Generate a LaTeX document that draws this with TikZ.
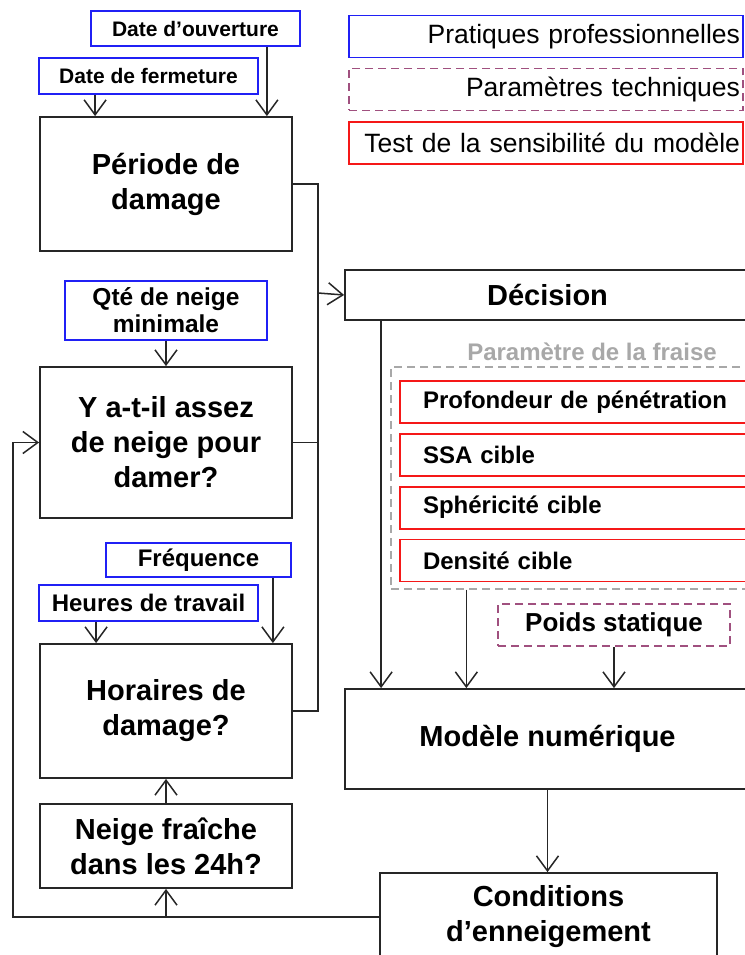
\documentclass[tikz,border=0pt]{standalone}
\usepackage{fontspec}
\setmainfont{Liberation Sans}
\usepackage{tikz}
\usepackage{xcolor}
\usetikzlibrary{arrows.meta, positioning, calc}
\definecolor{PratBlue}{HTML}{2020F5}
\definecolor{TechPlum}{HTML}{A0507F}
\definecolor{TestRed}{HTML}{F51818}
\definecolor{FraiseGray}{HTML}{A8A8A8}

\begin{document}
\begin{tikzpicture}[x=1pt, y=-1pt,
    stepbox/.style={draw=black!85, line width=1.8pt, align=center, inner sep=0pt,
        font=\fontsize{29}{35}\selectfont\bfseries},
    pratbox/.style={draw=PratBlue, line width=1.8pt, align=center, inner sep=0pt,
        font=\fontsize{21}{24}\selectfont\bfseries},
    testbox/.style={draw=TestRed, line width=1.8pt, align=left, inner xsep=23pt,
        inner ysep=0pt, text width=314pt, minimum height=42pt,
        font=\fontsize{24}{27}\selectfont\bfseries},
    legbox/.style={line width=1.8pt, align=right, inner xsep=3pt, inner ysep=0pt,
        text width=388pt, minimum height=42pt, font=\fontsize{26.5}{30}\selectfont},
    flow/.style={line width=1.5pt, draw=black!85, -{Straight Barb[length=15pt, width=22pt]}},
    link/.style={line width=1.5pt, draw=black!85}]
\useasboundingbox (0,0) rectangle (744,955);

% legend
\node[legbox, draw=PratBlue] (legPrat) at (546,36.5) {Pratiques professionnelles};
\node[legbox, draw=TechPlum, dash pattern=on 8pt off 5pt] (legTech) at (546,89.5) {Paramètres techniques};
\node[legbox, draw=TestRed] (legTest) at (546,143) {Test de la sensibilité du modèle};

% left column
\node[pratbox, minimum width=209pt, minimum height=35pt] (dateOuv) at (195.5,28.5) {Date d’ouverture};
\node[pratbox, minimum width=219pt, minimum height=36pt] (dateFerm) at (148.5,76) {Date de fermeture};
\node[stepbox, minimum width=252pt, minimum height=134pt] (periode) at (166,184) {Période de\\damage};
\node[pratbox, font=\fontsize{24.5}{27}\selectfont\bfseries,
      minimum width=202pt, minimum height=59pt] (qteNeige) at (166,310.5) {Qté de neige\\minimale};
\node[stepbox, minimum width=252pt, minimum height=151pt] (assez) at (166,442.5) {Y a-t-il assez\\de neige pour\\damer?};
\node[pratbox, font=\fontsize{24}{27}\selectfont\bfseries,
      minimum width=185pt, minimum height=34pt] (freq) at (198.5,560) {Fréquence};
\node[pratbox, font=\fontsize{24}{27}\selectfont\bfseries,
      minimum width=219pt, minimum height=36pt] (heures) at (148.5,603) {Heures de travail};
\node[stepbox, minimum width=252pt, minimum height=134pt] (horaires) at (166,711) {Horaires de\\damage?};
\node[stepbox, minimum width=252pt, minimum height=84pt] (neige) at (166,846) {Neige fraîche\\dans les 24h?};

% right column
\node[stepbox, minimum width=405pt, minimum height=50pt] (decision) at (547.5,295) {Décision};
\node[draw=FraiseGray, line width=1.3pt, dash pattern=on 8pt off 5pt,
      minimum width=369pt, minimum height=222pt] (fraise) at (575.5,478) {};
\node[font=\fontsize{24}{27}\selectfont\bfseries, text=FraiseGray] (fraiseLbl) at (592,352) {Paramètre de la fraise};
\node[testbox] (profond) at (580,402) {Profondeur de pénétration};
\node[testbox, below=9pt of profond] (ssa) {SSA cible};
\node[testbox, below=9pt of ssa] (spheric) {Sphéricité cible};
\node[testbox, below=9pt of spheric] (densite) {Densité cible};
\node[draw=TechPlum, line width=1.8pt, dash pattern=on 8pt off 5pt, minimum width=232pt,
      minimum height=42pt, font=\fontsize{26}{30}\selectfont\bfseries] (poids) at (614,625) {Poids statique};
\node[stepbox, minimum width=405pt, minimum height=100pt] (modele) at (547.5,739) {Modèle numérique};
\node[stepbox, minimum width=337pt, minimum height=88pt] (cond) at (548.5,917) {Conditions\\d’enneigement};

% connector points
\coordinate (bus) at (318,293);
\coordinate (loop) at (13,917);
\coordinate (ferm) at ([xshift=57pt]dateFerm.south west);
\coordinate (ouv) at ([xshift=-34pt]dateOuv.south east);
\coordinate (heu) at ([xshift=58pt]heures.south west);
\coordinate (fre) at ([xshift=-19pt]freq.south east);
\coordinate (dec) at ([xshift=37pt]decision.south west);
\coordinate (fra) at ([xshift=76pt]fraise.south west);

% connectors
\draw[flow] (ferm) -- (ferm |- periode.north);
\draw[flow] (ouv) -- (ouv |- periode.north);
\draw[flow] (qteNeige.south) -- (assez.north);
\draw[flow] (heu) -- (heu |- horaires.north);
\draw[flow] (fre) -- (fre |- horaires.north);
\draw[flow] (neige.north) -- (horaires.south);
\draw[link] (periode.east) -| (bus);
\draw[link] (assez.east) -| (bus);
\draw[link] (horaires.east) -| (bus);
\draw[flow] (bus) -- (decision.west);
\draw[flow] (dec) -- (dec |- modele.north);
\draw[flow] (fra) -- (fra |- modele.north);
\draw[flow] (poids.south) -- (poids.south |- modele.north);
\draw[flow] (modele.south) -- (modele.south |- cond.north);
\draw[flow] (cond.west) -- (loop) |- (assez.west);
\draw[flow] (neige.south |- loop) -- (neige.south);
\end{tikzpicture}
\end{document}
